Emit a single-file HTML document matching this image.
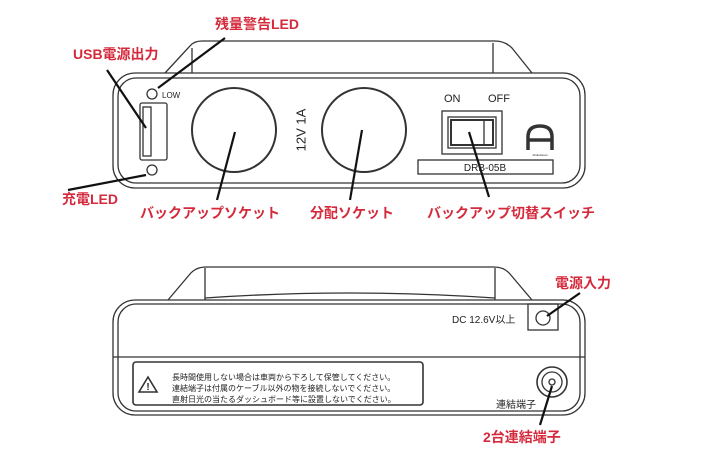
<!DOCTYPE html>
<html><head><meta charset="utf-8"><style>
body{margin:0;background:#fff}
svg{display:block}
.r{fill:#d42a3c;font-family:"Liberation Sans","Noto Sans CJK JP",sans-serif;font-weight:bold;font-size:14px}
.k{fill:#222;font-family:"Liberation Sans","Noto Sans CJK JP",sans-serif}
</style></head><body>
<svg width="710" height="474" viewBox="0 0 710 474" xmlns="http://www.w3.org/2000/svg">
<g fill="none" stroke="#333" stroke-width="1.3">
<!-- top handle -->
<path d="M165 73 L190 46 Q194 41 202 41 L495 41 Q505 41 512 48 L532 73"/>
<path d="M192 73 L192 48 M493 73 L493 43"/>
<!-- top body -->
<rect x="113" y="73" width="472" height="115" rx="22"/>
<rect x="118" y="78" width="462" height="105" rx="18"/>
<circle cx="152" cy="94" r="5"/>
<rect x="140" y="103" width="27" height="57" rx="2"/>
<rect x="143" y="107" width="8" height="49"/>
<circle cx="152" cy="170" r="5"/>
<circle cx="234" cy="130" r="42" stroke-width="2"/>
<circle cx="364" cy="130" r="42" stroke-width="2"/>
<rect x="442" y="111" width="60" height="43"/>
<rect x="448" y="117" width="48" height="31"/>
<rect x="451" y="120" width="42" height="25" stroke-width="2"/>
<line x1="484" y1="120" x2="484" y2="145"/>
<rect x="418" y="160" width="135" height="14"/>
<path d="M528 150 L528 137 Q528 126 540 126 Q552 126 552 137 L552 150 M528 140 L552 140" stroke-width="3.5"/>
<!-- bottom handle -->
<path d="M168 300 L190 274 Q196 267 206 267 L494 267 Q504 267 510 274 L532 300"/>
<path d="M205 300 L205 268 M495 300 L495 268"/>
<path d="M205 298 Q350 288 495 298"/>
<!-- bottom body -->
<rect x="113" y="300" width="472" height="115" rx="22"/>
<rect x="118" y="304" width="462" height="107" rx="18"/>
<line x1="113" y1="357" x2="585" y2="357"/>
<rect x="133" y="362" width="290" height="43" rx="3" stroke-width="1.6"/>
<path d="M139 392 L148 377 L157 392 Z" stroke-width="1.6"/>
<rect x="528" y="304" width="30" height="26"/>
<circle cx="543" cy="318" r="7"/>
<circle cx="552" cy="382" r="15" stroke-width="1.6"/>
<circle cx="552" cy="382" r="10"/>
<circle cx="552" cy="382" r="3"/>
</g>
<text x="148" y="390" class="k" font-size="10" font-weight="bold" text-anchor="middle">!</text>
<g stroke="#111" stroke-width="2.2">
<line x1="225" y1="38" x2="158" y2="88"/>
<line x1="107" y1="70" x2="146" y2="128"/>
<line x1="68" y1="190" x2="146" y2="175"/>
<line x1="235" y1="132" x2="217" y2="200"/>
<line x1="362" y1="130" x2="350" y2="200"/>
<line x1="469" y1="132" x2="489" y2="197"/>
<line x1="580" y1="293" x2="547" y2="316"/>
<line x1="552" y1="386" x2="540" y2="425"/>
</g>
<text x="162" y="98" class="k" font-size="8">LOW</text>
<text x="302" y="130" class="k" font-size="13" text-anchor="middle" transform="rotate(90 302 130) rotate(180 302 130)" dominant-baseline="middle">12V 1A</text>
<text x="444" y="102" class="k" font-size="11">ON</text>
<text x="488" y="102" class="k" font-size="11">OFF</text>
<text x="540" y="156" class="k" font-size="3" text-anchor="middle">Flukeforest</text>
<text x="485" y="171" class="k" font-size="10" text-anchor="middle">DRB-05B</text>
<text x="452" y="323" class="k" font-size="10">DC 12.6V以上</text>
<text x="172" y="380" class="k" font-size="8">長時間使用しない場合は車両から下ろして保管してください。</text>
<text x="172" y="391" class="k" font-size="8">連結端子は付属のケーブル以外の物を接続しないでください。</text>
<text x="172" y="402" class="k" font-size="8">直射日光の当たるダッシュボード等に設置しないでください。</text>
<text x="496" y="408" class="k" font-size="10">連結端子</text>
<text x="215" y="29" class="r">残量警告LED</text>
<text x="73" y="59" class="r">USB電源出力</text>
<text x="62" y="204" class="r">充電LED</text>
<text x="140" y="218" class="r">バックアップソケット</text>
<text x="310" y="218" class="r">分配ソケット</text>
<text x="427" y="218" class="r">バックアップ切替スイッチ</text>
<text x="555" y="288" class="r">電源入力</text>
<text x="483" y="442" class="r">2台連結端子</text>
</svg>
</body></html>
